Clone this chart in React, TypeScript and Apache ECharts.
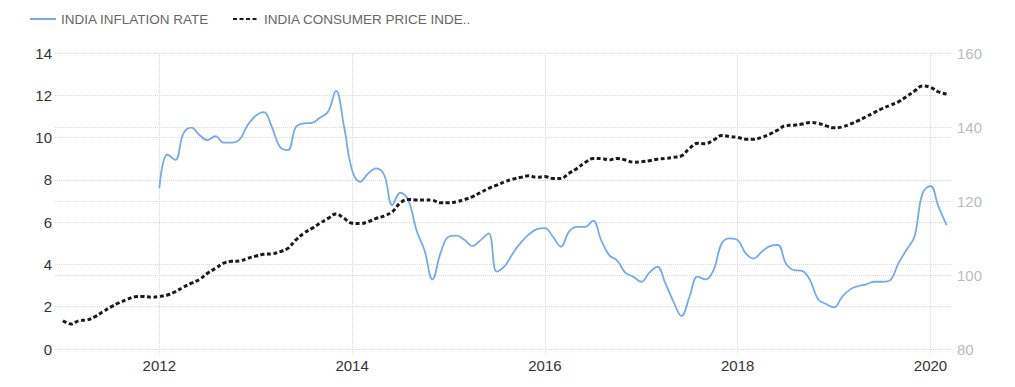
import React, { useEffect, useRef } from "react";
import * as echarts from "echarts";

// Monthly data, India inflation rate (%) from Jan 2012 to Mar 2020
const inflationStart: [number, number] = [2012, 1];
const inflationRate: number[] = [
  7.6, 9.2, 8.95, 10.2, 10.47, 10.12, 9.88, 10.07, 9.76, 9.76, 9.91, 10.59,
  11.03, 11.2, 10.51, 9.57, 9.41, 10.5, 10.67, 10.7, 10.94, 11.22, 12.21, 10.51,
  8.46, 7.91, 8.3, 8.54, 8.23, 6.81, 7.39, 7.04, 5.63, 4.68, 3.29, 4.52,
  5.31, 5.36, 5.15, 4.87, 5.15, 5.47, 3.66, 3.92, 4.52, 5.03, 5.42, 5.67,
  5.72, 5.31, 4.84, 5.55, 5.78, 5.78, 6.07, 5.15, 4.44, 4.18, 3.61, 3.42,
  3.18, 3.61, 3.89, 3.1, 2.24, 1.56, 2.47, 3.42, 3.29, 3.73, 4.99, 5.23,
  5.15, 4.52, 4.28, 4.6, 4.87, 4.92, 4.05, 3.73, 3.7, 3.26, 2.35, 2.13,
  1.97, 2.47, 2.82, 2.98, 3.06, 3.18, 3.18, 3.26, 4.05, 4.68, 5.31, 7.36,
  7.71, 6.73, 5.86,
];

// Monthly data, India consumer price index from Jan 2011 to Mar 2020
const cpiStart: [number, number] = [2011, 1];
const consumerPriceIndex: number[] = [
  87.65, 86.76, 87.65, 87.84, 88.73, 90.1, 91.4, 92.5, 93.4, 94.1, 94.2, 94.0,
  94.2, 94.6, 95.5, 96.7, 97.8, 98.8, 100.5, 101.8, 103.2, 103.7, 103.8, 104.5,
  105.1, 105.6, 105.7, 106.3, 107.2, 109.5, 111.3, 112.6, 114.0, 115.3, 116.5, 115.3,
  114.0, 113.9, 114.4, 115.3, 116.0, 117.1, 119.5, 120.4, 120.3, 120.3, 120.2, 119.5,
  119.5, 119.8, 120.4, 121.2, 122.3, 123.4, 124.3, 125.2, 125.9, 126.4, 126.8, 126.4,
  126.6, 126.1, 126.1, 127.5, 128.8, 130.4, 131.5, 131.5, 131.1, 131.5, 131.1, 130.5,
  130.6, 130.9, 131.3, 131.5, 131.8, 132.2, 134.2, 135.6, 135.5, 136.5, 137.7, 137.4,
  137.2, 136.7, 136.7, 137.2, 138.1, 139.2, 140.4, 140.5, 140.8, 141.2, 141.0, 140.3,
  139.8, 140.0, 140.8, 141.7, 142.8, 143.9, 145.0, 145.9, 146.8, 148.2, 149.7, 151.1,
  150.7, 149.5, 148.9,
];

const yearTicks: number[] = [2012, 2014, 2016, 2018, 2020];
const leftTicks = { min: 0, max: 14, interval: 2 };
const rightTicks = { min: 80, max: 160, interval: 20 };

const seriesNames = ["INDIA INFLATION RATE", "INDIA CONSUMER PRICE INDE.."];

function toPairs(start: [number, number], values: number[]): [number, number][] {
  return values.map((v, i) => {
    const m = start[1] - 1 + i;
    return [start[0] + m / 12, v];
  });
}

export default function App() {
  const ref = useRef<HTMLDivElement>(null);
  useEffect(() => {
    if (!ref.current) return;
    const chart = echarts.init(ref.current, undefined, { renderer: "svg" });
    const grid = "#d9d9d9";
    chart.setOption({
      animation: false,
      backgroundColor: "#ffffff",
      textStyle: { fontFamily: "Arial, 'Liberation Sans', sans-serif" },
      legend: {
        left: 24,
        top: 7,
        itemWidth: 26,
        itemHeight: 10,
        itemGap: 23,
        itemStyle: { opacity: 0 },
        textStyle: { fontSize: 13.5, color: "#666666" },
        data: seriesNames,
      },
      grid: { left: 55, right: 63, top: 53, bottom: 38 },
      xAxis: {
        type: "value",
        min: 2010.918,
        max: 2020.223,
        axisLine: { show: false },
        axisTick: {
          show: true,
          customValues: yearTicks,
          length: 5,
          lineStyle: { color: grid, type: "dotted" },
        },
        axisLabel: {
          customValues: yearTicks,
          color: "#333333",
          fontSize: 15,
          margin: 9,
          formatter: (v: number) => String(Math.round(v)),
        },
        splitLine: { show: true, lineStyle: { color: grid, type: "dotted" } },
      },
      yAxis: [
        {
          type: "value",
          ...leftTicks,
          position: "left",
          axisLine: { show: false },
          axisTick: { show: false },
          axisLabel: { color: "#333333", fontSize: 15, margin: 3 },
          splitLine: { show: true, lineStyle: { color: grid, type: "dotted" } },
        },
        {
          type: "value",
          ...rightTicks,
          position: "right",
          axisLine: { show: false },
          axisTick: { show: false },
          axisLabel: { color: "#bbbbbb", fontSize: 15, margin: 5 },
          splitLine: { show: true, lineStyle: { color: grid, type: "dotted" } },
        },
      ],
      series: [
        {
          name: seriesNames[0],
          type: "line",
          yAxisIndex: 0,
          data: toPairs(inflationStart, inflationRate),
          smooth: 0.4,
          symbol: "none",
          lineStyle: { color: "#74aaf2", width: 1.8 },
          itemStyle: { color: "#74aaf2" },
        },
        {
          name: seriesNames[1],
          type: "line",
          yAxisIndex: 1,
          data: toPairs(cpiStart, consumerPriceIndex),
          smooth: 0.4,
          symbol: "none",
          lineStyle: { color: "#1a1a1a", width: 3, type: [4, 2.5] },
          itemStyle: { color: "#1a1a1a" },
        },
      ],
    });
    return () => chart.dispose();
  }, []);
  return (
    <div
      ref={ref}
      style={{ position: "fixed", left: 0, top: 0, width: 1015, height: 387 }}
    />
  );
}
